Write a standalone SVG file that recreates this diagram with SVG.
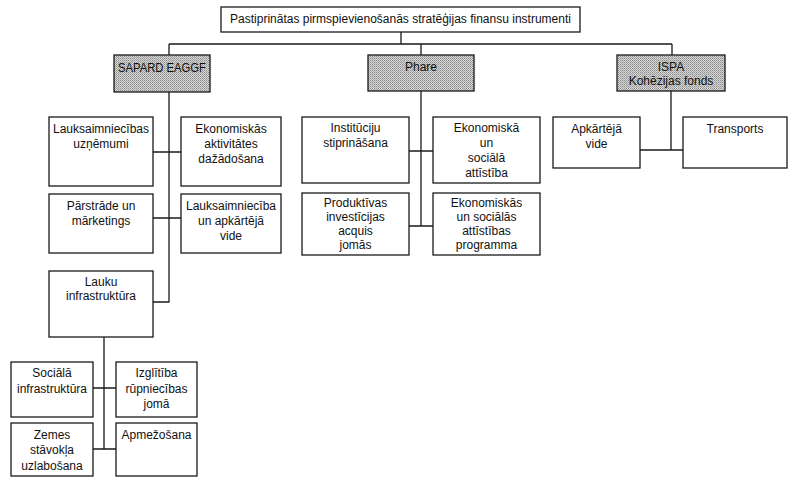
<svg xmlns="http://www.w3.org/2000/svg" width="800" height="483" viewBox="0 0 800 483">
<defs>
<pattern id="dots" width="2" height="2" patternUnits="userSpaceOnUse">
<rect width="2" height="2" fill="#d6d6d6"/>
<rect width="1" height="1" fill="#8c8c8c"/>
<rect x="1" y="1" width="1" height="1" fill="#a8a8a8"/>
</pattern>
</defs>
<style>
rect.box{fill:#ffffff;stroke:#1a1a1a;stroke-width:1.3}
rect.gbox{fill:url(#dots);stroke:#1a1a1a;stroke-width:1.3}
text{font-family:"Liberation Sans",Arial,sans-serif;font-size:12px;fill:#111;text-anchor:middle}
#connectors path{fill:none;stroke:#1a1a1a;stroke-width:1.3}
</style>
<rect width="800" height="483" fill="#ffffff"/>
<g id="connectors">
<path d="M401,32V44M169,44H672M169,44V55M421,44V55M672,44V55"/>
<path d="M169,92V302H153M153,152H181M153,218H181"/>
<path d="M421,91V226M409,151H433M409,226H433"/>
<path d="M671,91V150M640,150H683"/>
<path d="M104,337V449M93,388H116M93,449H116"/>
</g>
<g id="title"><rect class="box" x="221" y="7" width="359" height="25"/><text x="400.5" y="23">Pastiprinātas pirmspievienošanās stratēģijas finansu instrumenti</text></g>
<g id="sapard"><rect class="gbox" x="114" y="55" width="96" height="37"/><text x="162" y="72" textLength="88" lengthAdjust="spacingAndGlyphs">SAPARD EAGGF</text></g>
<g id="phare"><rect class="gbox" x="368" y="55" width="106" height="36"/><text x="421" y="71">Phare</text></g>
<g id="ispa"><rect class="gbox" x="617" y="55" width="108" height="36"/><text x="671" y="71">ISPA</text><text x="671" y="85">Kohēzijas fonds</text></g>
<g id="lauks-uzn"><rect class="box" x="49" y="117" width="104" height="69"/><text x="101" y="133">Lauksaimniecības</text><text x="101" y="148">uzņēmumi</text></g>
<g id="ekon-akt"><rect class="box" x="181" y="117" width="100" height="69"/><text x="231" y="133">Ekonomiskās</text><text x="231" y="148">aktivitātes</text><text x="231" y="163">dažādošana</text></g>
<g id="parstrade"><rect class="box" x="49" y="194" width="104" height="59"/><text x="101" y="210">Pārstrāde un</text><text x="101" y="225">mārketings</text></g>
<g id="lauks-vide"><rect class="box" x="181" y="194" width="100" height="59"/><text x="231" y="210">Lauksaimniecība</text><text x="231" y="225">un apkārtējā</text><text x="231" y="240">vide</text></g>
<g id="lauku-infra"><rect class="box" x="49" y="271" width="104" height="66"/><text x="101" y="286">Lauku</text><text x="101" y="300">infrastruktūra</text></g>
<g id="instit"><rect class="box" x="302" y="117" width="107" height="66"/><text x="355.5" y="132">Institūciju</text><text x="355.5" y="147">stiprināšana</text></g>
<g id="ekon-soc"><rect class="box" x="433" y="117" width="107" height="66"/><text x="486.5" y="132">Ekonomiskā</text><text x="486.5" y="147">un</text><text x="486.5" y="162">sociālā</text><text x="486.5" y="177">attīstība</text></g>
<g id="produkt"><rect class="box" x="302" y="193" width="107" height="62"/><text x="355.5" y="207">Produktīvas</text><text x="355.5" y="221">investīcijas</text><text x="355.5" y="235">acquis</text><text x="355.5" y="249">jomās</text></g>
<g id="ekon-prog"><rect class="box" x="433" y="193" width="107" height="62"/><text x="486.5" y="207">Ekonomiskās</text><text x="486.5" y="221">un sociālās</text><text x="486.5" y="235">attīstības</text><text x="486.5" y="249">programma</text></g>
<g id="apkarteja"><rect class="box" x="553" y="117" width="87" height="51"/><text x="596.5" y="133">Apkārtējā</text><text x="596.5" y="148">vide</text></g>
<g id="transports"><rect class="box" x="683" y="117" width="104" height="51"/><text x="735" y="133">Transports</text></g>
<g id="soc-infra"><rect class="box" x="11" y="362" width="82" height="55"/><text x="52" y="377">Sociālā</text><text x="52" y="393">infrastruktūra</text></g>
<g id="izglitiba"><rect class="box" x="116" y="362" width="81" height="55"/><text x="156.5" y="377">Izglītība</text><text x="156.5" y="393">rūpniecības</text><text x="156.5" y="408">jomā</text></g>
<g id="zemes"><rect class="box" x="11" y="423" width="82" height="53"/><text x="52" y="439">Zemes</text><text x="52" y="454">stāvokļa</text><text x="52" y="470">uzlabošana</text></g>
<g id="apmezosana"><rect class="box" x="116" y="423" width="81" height="53"/><text x="156.5" y="439">Apmežošana</text></g>
</svg>
